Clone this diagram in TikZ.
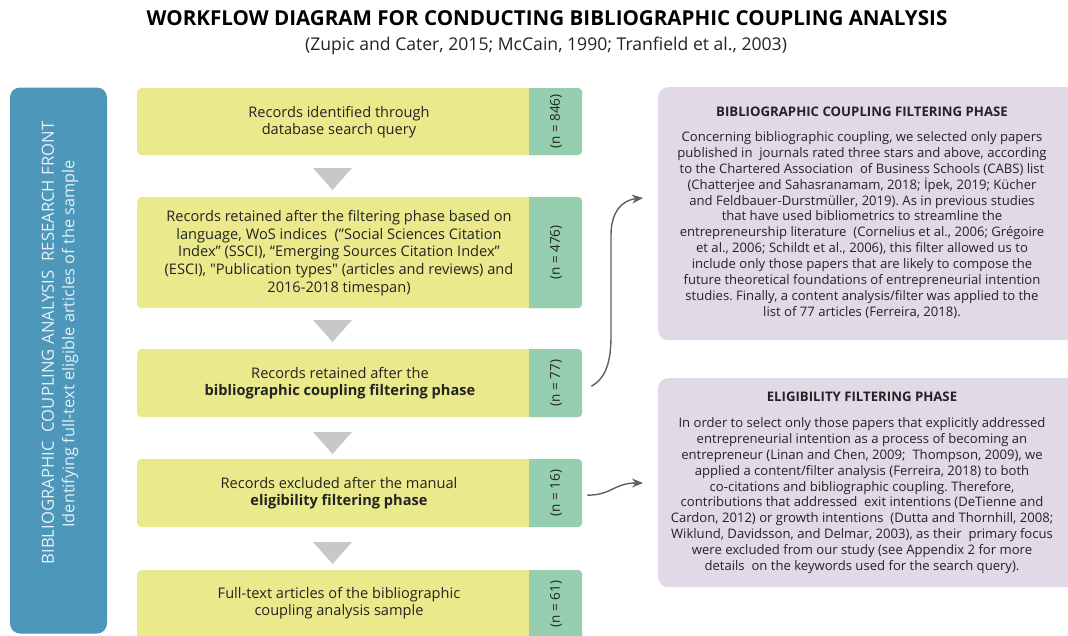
\documentclass[tikz,border=0pt]{standalone}
\usepackage{fontspec}
\setmainfont{Open Sans}
\usetikzlibrary{arrows.meta}
\frenchspacing
\definecolor{bluebox}{RGB}{76,151,186}
\definecolor{bluetext}{RGB}{228,240,246}
\definecolor{yel}{RGB}{234,234,140}
\definecolor{grn}{RGB}{150,206,176}
\definecolor{lav}{RGB}{225,218,230}
\definecolor{tri}{RGB}{200,200,200}
\definecolor{txt}{RGB}{35,35,35}
\definecolor{arrc}{RGB}{95,95,95}
\tikzset{
  ybox/.style={fill=yel, draw=none, rounded corners=4pt, minimum width=445pt, anchor=north west, inner sep=0pt},
  ytext/.style={text=txt, align=center, font=\fontsize{14.6}{17.6}\selectfont},
  nlab/.style={text=txt, rotate=90, font=\fontsize{13.5}{15}\selectfont},
  pbox/.style={fill=lav, rounded corners=10pt},
  ptitle/.style={text=txt, font=\bfseries\fontsize{13.2}{15}\selectfont},
  ptext/.style={text=txt, align=center, font=\fontsize{13.1}{15.9}\selectfont},
  arr/.style={draw=arrc, line width=1.4pt, -{Stealth[length=11pt,width=9pt]}},
}
\begin{document}
\begin{tikzpicture}[x=1pt,y=-1pt]
\useasboundingbox (0,0) rectangle (1068,635);
% title
\node[text=black, font=\bfseries\fontsize{20.6}{24}\selectfont] (title) at (547,18) {WORKFLOW DIAGRAM FOR CONDUCTING BIBLIOGRAPHIC COUPLING ANALYSIS};
\node[text=txt, font=\fontsize{17.6}{20}\selectfont] (subtitle) at (546,46) {(Zupic and Cater, 2015; McCain, 1990; Tranfield et al., 2003)};
% blue side box
\node[fill=bluebox, rounded corners=10pt, minimum width=97pt, minimum height=546pt, inner sep=0pt] (side) at (58.5,360.5) {};
\node[text=bluetext, rotate=90, font=\fontsize{16.7}{20}\selectfont] (sideA) at (48,343) {BIBLIOGRAPHIC\ \ COUPLING ANALYSIS\ \ RESEARCH FRONT};
\node[text=bluetext, rotate=90, font=\fontsize{16.3}{20}\selectfont] (sideB) at (70,344) {Identifying full-text eligible articles of the sample};
% yellow boxes
\foreach \nm/\t/\h in {b1/88/67, b2/197/111, b3/349/68, b4/459/68, b5/570/70}{
  \node[ybox, minimum height=\h pt] (\nm) at (137,\t) {};
  \fill[grn] (529,\t) [rounded corners=4pt] -- (582,\t) -- (582,\t+\h) [sharp corners] -- (529,\t+\h) -- cycle;
}
\node[ytext] (t1) at (339,122) {Records identified through\\database search query};
\node[ytext] (t2) at (339,253) {Records retained after the filtering phase based on\\language, WoS indices\ \ (”Social Sciences Citation\\Index” (SSCI), “Emerging Sources Citation Index”\\(ESCI), \textquotedbl Publication types\textquotedbl\ (articles and reviews) and\\2016-2018 timespan)};
\node[ytext] (t3) at (340,383) {Records retained after the\\\textbf{bibliographic coupling filtering phase}};
\node[ytext] (t4) at (339,493) {Records excluded after the manual\\\textbf{eligibility filtering phase}};
\node[ytext] (t5) at (339,603) {Full-text articles of the bibliographic\\coupling analysis sample};
\node[nlab] (n1) at (556,121.5) {(n = 846)};
\node[nlab] (n2) at (556,252.5) {(n = 476)};
\node[nlab] (n3) at (556,383) {(n = 77)};
\node[nlab] (n4) at (556,493) {(n = 16)};
\node[nlab] (n5) at (556,604) {(n = 61)};
% triangles
\foreach \nm/\y in {g1/168, g2/320, g3/432, g4/542}{
  \fill[tri] (313,\y) -- (352,\y) -- (332.5,\y+22) -- cycle;
  \coordinate (\nm) at (332.5,\y);
}
% right panels
\node[pbox, minimum width=420pt, minimum height=253pt, anchor=north west] (pA) at (658,87) {};
\node[ptitle] (pAt) at (862,112) {BIBLIOGRAPHIC COUPLING FILTERING PHASE};
\node[ptext, anchor=north] (pAb) at (862,128) {Concerning bibliographic coupling, we selected only papers\\published in\ \ journals rated three stars and above, according\\to the Chartered Association\ \ of Business Schools (CABS) list\\(Chatterjee and Sahasranamam, 2018; İpek, 2019; Kücher\\and Feldbauer-Durstmüller, 2019). As in previous studies\\that have used bibliometrics to streamline the\\entrepreneurship literature\ \ (Cornelius et al., 2006; Grégoire\\et al., 2006; Schildt et al., 2006), this filter allowed us to\\include only those papers that are likely to compose the\\future theoretical foundations of entrepreneurial intention\\studies. Finally, a content analysis/filter was applied to the\\list of 77 articles (Ferreira, 2018).};
\node[pbox, minimum width=420pt, minimum height=209pt, anchor=north west] (pB) at (658,378) {};
\node[ptitle] (pBt) at (862,397) {ELIGIBILITY FILTERING PHASE};
\node[ptext, anchor=north] (pBb) at (862,414) {In order to select only those papers that explicitly addressed\\entrepreneurial intention as a process of becoming an\\entrepreneur (Linan and Chen, 2009;\ \ Thompson, 2009), we\\applied a content/filter analysis (Ferreira, 2018) to both\\co-citations and bibliographic coupling. Therefore,\\contributions that addressed\ \ exit intentions (DeTienne and\\Cardon, 2012) or growth intentions\ \ (Dutta and Thornhill, 2008;\\Wiklund, Davidsson, and Delmar, 2003), as their\ \ primary focus\\were excluded from our study (see Appendix 2 for more\\details\ \ on the keywords used for the search query).};
% arrows
\coordinate (a1s) at ([xshift=9pt,yshift=-3pt]b3.east);
\coordinate (a1e) at ([xshift=-15pt]pA.west |- 0,198);
\coordinate (a2s) at ([xshift=5pt,yshift=-2pt]b4.east);
\coordinate (a2e) at ([xshift=-15pt]pB.west |- 0,483);
\draw[arr] (a1s) .. controls (606,378) and (611,362) .. (611,335) -- (611,235) .. controls (611,212) and (622,200) .. (a1e);
\draw[arr] (a2s) .. controls (612,495) and (614,483) .. (a2e);
\end{tikzpicture}
\end{document}
